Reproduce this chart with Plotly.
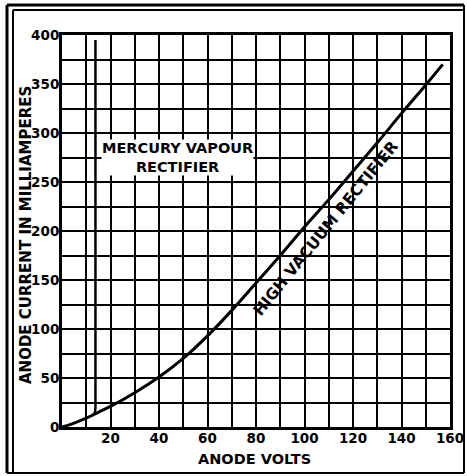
import plotly.graph_objects as go

# Anode characteristics: anode volts vs anode current (mA)
vacuum_volts = [0, 5, 10, 15, 20, 30, 40, 50, 60, 70, 80, 90, 100, 110, 120, 130, 140, 150, 157]
vacuum_ma = [0, 4, 9, 15, 21, 35, 51, 70, 93, 119, 147, 175, 204, 232, 261, 290, 320, 349, 370]

mercury_volts = [12.6, 13.5, 13.8, 13.8]
mercury_ma = [11.5, 14.5, 20, 395]

# Axis ticks (grid every 10 V / 25 mA, labels on alternate lines)
x_tickvals = list(range(0, 161, 10))
x_ticktext = ["", "", "20", "", "40", "", "60", "", "80", "", "100", "", "120", "", "140", "", "160"]
y_tickvals = list(range(0, 401, 25))
y_ticktext = ["0", "", "50", "", "100", "", "150", "", "200", "", "250", "", "300", "", "350", "", "400"]

W, H = 467, 476
L, R, T, B = 62, 450, 35, 427
FONT = dict(family="DejaVu Sans, Liberation Sans, sans-serif", color="black", size=14, weight="bold")


def px(x):
    return (x - L) / (R - L)


def py(y):
    return (B - y) / (B - T)


fig = go.Figure()
fig.add_trace(go.Scatter(x=vacuum_volts, y=vacuum_ma, mode="lines",
                         line=dict(color="black", width=3, shape="spline", smoothing=1.0),
                         hoverinfo="skip", showlegend=False))
fig.add_trace(go.Scatter(x=mercury_volts, y=mercury_ma, mode="lines",
                         line=dict(color="black", width=2.5, shape="spline", smoothing=0.4),
                         hoverinfo="skip", showlegend=False))

# Curve labels
fig.add_annotation(x=47.5, y=275, xref="x", yref="y", text="MERCURY VAPOUR<br>RECTIFIER",
                   showarrow=False, font=dict(FONT, size=14.5), bgcolor="white", borderpad=0)
fig.add_annotation(x=108.5, y=202.5, xref="x", yref="y", text="HIGH VACUUM RECTIFIER",
                   showarrow=False, textangle=-51, font=dict(FONT, size=15.5))

# Axis titles
fig.add_annotation(x=px(26), y=py(235), xref="paper", yref="paper",
                   text="ANODE CURRENT IN MILLIAMPERES", showarrow=False, textangle=-90,
                   xanchor="center", yanchor="middle", font=dict(FONT, size=15))
fig.add_annotation(x=px(254), y=py(459), xref="paper", yref="paper",
                   text="ANODE VOLTS", showarrow=False,
                   xanchor="center", yanchor="middle", font=dict(FONT, size=14.5))

# Double-ruled outer frame
frame = [
    (7, 5, 7, 473, 3), (13, 10, 13, 473, 2),
    (7, 5, 464, 5, 3), (13, 10, 464, 10, 2),
    (464, 5, 464, 473, 2), (7, 473, 464, 473, 2),
]
for x0, y0, x1, y1, w in frame:
    fig.add_shape(type="line", xref="paper", yref="paper",
                  x0=px(x0), y0=py(y0), x1=px(x1), y1=py(y1),
                  line=dict(color="black", width=w))

axis_common = dict(showgrid=True, gridcolor="black", gridwidth=2, zeroline=False,
                   showline=True, linecolor="black", linewidth=3, mirror=True,
                   ticks="", tickfont=dict(FONT, size=13.5), fixedrange=True,
                   ticklabelstandoff=-3)

fig.update_xaxes(range=[0, 160], tickmode="array", tickvals=x_tickvals, ticktext=x_ticktext,
                 **axis_common)
fig.update_yaxes(range=[0, 400], tickmode="array", tickvals=y_tickvals, ticktext=y_ticktext,
                 **axis_common)

fig.update_layout(width=W, height=H, margin=dict(l=L, r=W - R, t=T, b=H - B, autoexpand=False),
                  paper_bgcolor="white", plot_bgcolor="white", showlegend=False)

fig.write_html("out.html", config={"displayModeBar": False})
